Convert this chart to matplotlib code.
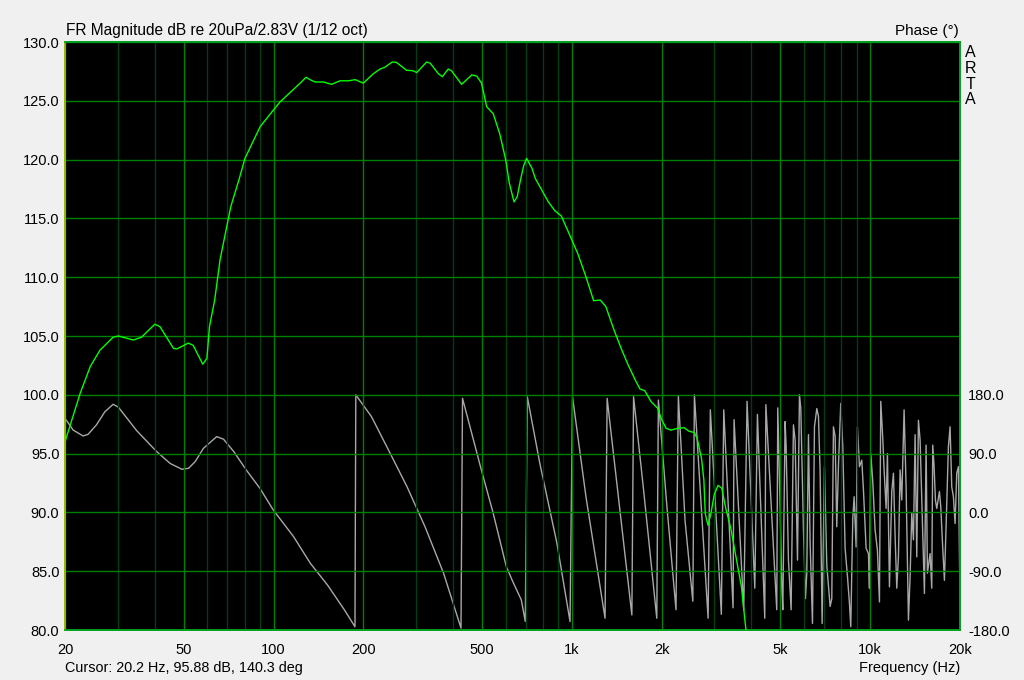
"""ARTA style FR magnitude + phase plot"""
import numpy as np, matplotlib
matplotlib.use('Agg')
import matplotlib.pyplot as plt
from matplotlib.ticker import FixedLocator, NullFormatter
plt.rcParams.update({'font.family':['Liberation Sans','DejaVu Sans'],'font.size':10})
BG='#F0F0F0'

# magnitude (dB re 20uPa/2.83V)
mag_f=[20,22.5,24.3,26.2,29.0,30.2,33.9,36.1,40.0,41.6,46.2,47.4,51.8,53.8,57.9,59.8,61.0,63.5,66.2,71.9,
       76.8,80.2,90.2,99.8,105.1,122.8,128.5,132.5,137.7,146.8,156.5,167,178.5,187.8,200,216,227.5,236,250,258,
       279,294,302,326,335,357,368,385,395,427,444,462,480,498,518,545,573,600,617,640,656,673,690,705,
       735,754,793,834,877,922,983,1047,1116,1183,1245,1300,1385,1460,1540,1628,1691,1755,1845,1940,1990,
       2070,2150,2260,2380,2470,2570,2630,2720,2770,2800,2860,2920,3000,3090,3180,3280,3410,3550,3700,3830,3900]
mag_db=[96.0,100.15,102.4,103.8,104.9,105.0,104.66,104.9,106.0,105.8,103.95,103.9,104.4,104.2,102.6,103.1,105.8,108.06,111.5,116.0,
        118.4,120.1,122.8,124.2,124.9,126.5,127.0,126.8,126.6,126.6,126.4,126.7,126.7,126.8,126.5,127.3,127.7,127.85,128.3,128.27,
        127.6,127.55,127.4,128.3,128.2,127.3,127.05,127.7,127.55,126.4,126.8,127.2,127.1,126.5,124.5,123.9,122.2,120.0,118.0,116.4,116.85,118.3,119.5,120.1,
        119.26,118.4,117.4,116.4,115.65,115.2,113.6,112.0,110.0,108.0,108.06,107.5,105.5,104.0,102.6,101.3,100.5,100.35,99.4,98.85,98.0,
        97.15,97.0,97.15,97.2,96.9,96.8,96.3,94.6,92.75,89.9,88.9,89.8,91.5,92.3,92.05,90.35,88.65,86.2,83.7,80.1,79.4]

# phase (deg), wrapped as displayed
ph_f=[20,21.3,23.0,23.9,25.5,27.2,29.0,30.2,34.8,40.6,45,49.3,51.9,54.6,58.2,64.5,68,73.6,81,90,99.8,116.7,132.9,151.6,172.7,187.5,
      188.7,213,246,280,322,371.5,406.5,425,430,494,545,603,634,677,698,709,781,891,986,1005,1115,1292,1313,1445,1589,1610,
      1737,1926,1950,2080,2234,2275,2396,2544,2575,2862,2912,3170,3230,3470,3497,3768,3866,4104,4188,4432,4470,4862,4900,
      4990,5055,5094,5186,5227,5321,5432,5530,5602,5705,5793,5853,5975,6068,6130,6210,6290,6405,6504,6623,6708,6795,6901,
      7026,7154,7340,7435,7531,7629,7726,7826,7968,8093,8240,8390,8520,8608,8742,8833,8970,9063,9204,9371,9493,9690,9866,
      9942,10045,10201,10387,10575,10740,10851,11020,11134,11307,11424,11602,11813,11966,12121,12277,12436,12597,12760,12991,
      13194,13434,13608,13784,13962,14143,14326,14511,14698,14889,15198,15395,15554,15877,16083,16207,16375,16544,16715,17062,
      17238,17507,17733,17963,18289,18526,18766,19008,19254,19503,19756,20000]
ph_deg=[144,126,117,119.5,134,154,165.5,161,125,93,75,66,67.5,77.6,98,116,112,93,65,37,3.7,-37,-78,-111,-149,-175,
        180,146.5,90.5,39.6,-22,-93,-149,-177,174.6,70,-1.4,-83,-106,-134,-167,177,75,-47,-167,177,24,-162,174.6,8.7,-157,177,
        37,-162,172,12,-149,178,-13,-136,180,-162,157,-156,157,-146,142,-150,170,-116,150,-162,165,-149,160,
        9,-114,-149,139,101,-73,-149,134,111,-73,180,159,-27,-132,-93,119,-47,-170,131,159,147,62,-170,
        70,-81,-144,-132,131,116,-22,70,167,101,-55,-98,-139,-175,-9,24,-53,131,70,80,34,-55,-63,
        -116,90,47,-27,-58,-137,170,113,65,6,90,-114,32,60,-37,-116,-68,65,19,157,
        39,-165,-98,-1,-42,119,-68,141,111,19,-124,103,-93,-63,-116,103,70,19,6,32,
        9,-55,-104,-22,101,131,39,24,-17,60,70,-137]

xmaj=[20,50,100,200,500,1000,2000,5000,10000,20000]
xlab=['20','50','100','200','500','1k','2k','5k','10k','20k']
xmin=[30,40,60,70,80,90,300,400,600,700,800,900,3000,4000,6000,7000,8000,9000]
ph_ticks=[-180,-90,0,90,180]

fig=plt.figure(figsize=(10.24,6.8),dpi=100,facecolor=BG)
ax=fig.add_axes([65/1024,50/680,895/1024,588/680])
ax2=ax.twinx()
ax.set_zorder(ax2.get_zorder()+1); ax.patch.set_visible(False)
ax2.patch.set_visible(True); ax2.patch.set_facecolor('black')

ax2.plot(ph_f,ph_deg,color='#A8A8A8',lw=1.0)
ax2.set_ylim(-180,720)
ax2.set_yticks(ph_ticks); ax2.set_yticklabels([f'{v:.1f}' for v in ph_ticks])

ax.plot(mag_f,mag_db,color='#00FF00',lw=1.0,zorder=3)
ax.set_xscale('log'); ax.set_xlim(20,20000); ax.set_ylim(80,130)
ax.xaxis.set_major_locator(FixedLocator(xmaj)); ax.set_xticklabels(xlab)
ax.xaxis.set_minor_locator(FixedLocator(xmin)); ax.xaxis.set_minor_formatter(NullFormatter())
ax.set_yticks(np.arange(80,131,5)); ax.set_yticklabels([f'{v:.1f}' for v in np.arange(80,131,5)])
ax.grid(True,which='major',axis='both',color='#008000',lw=1.0,zorder=0)
ax.grid(True,which='minor',axis='x',color='#004010',lw=1.0,zorder=0)

for a in (ax,ax2):
    a.tick_params(which='both',length=0,colors='#000000',labelsize=10.5)
    for s in a.spines.values(): s.set_color('#00A020'); s.set_linewidth(1.2)
ax.tick_params(axis='x',pad=9); ax.tick_params(axis='y',pad=4)
ax2.tick_params(axis='y',pad=6)
ax.spines['left'].set_color('#B8B800')

fig.text(66/1024,1-31/680,'FR Magnitude dB re 20uPa/2.83V (1/12 oct)',ha='left',va='center',fontsize=11.2)
fig.text(959/1024,1-31/680,'Phase (°)',ha='right',va='center',fontsize=11)
for i,ch in enumerate('ARTA'):
    fig.text(970/1024,1-(52.5+15.8*i)/680,ch,ha='center',va='center',fontsize=11.5)
fig.text(65/1024,1-668/680,'Cursor: 20.2 Hz, 95.88 dB, 140.3 deg',ha='left',va='center',fontsize=10.4)
fig.text(960/1024,1-668/680,'Frequency (Hz)',ha='right',va='center',fontsize=10.5)

fig.savefig('out.png',dpi=100,facecolor=BG)
